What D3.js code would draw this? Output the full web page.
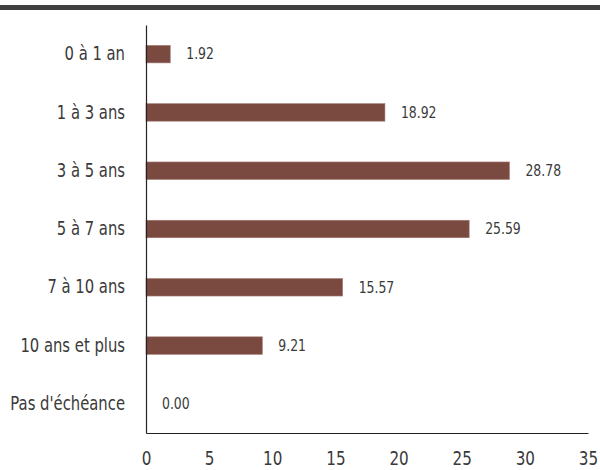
<!doctype html>
<html lang="fr">
<head>
<meta charset="utf-8">
<title>Répartition par échéance</title>
<script src="https://cdn.jsdelivr.net/npm/d3@7"></script>
<style>
  body { margin: 0; background: #fff; }
  text { font-family: "DejaVu Sans", sans-serif; fill: #3a3a3a; }
</style>
</head>
<body>
<script>
// data
var categories = ["0 à 1 an", "1 à 3 ans", "3 à 5 ans", "5 à 7 ans", "7 à 10 ans", "10 ans et plus", "Pas d'échéance"];
var values = [1.92, 18.92, 28.78, 25.59, 15.57, 9.21, 0.00];
var xTicks = [0, 5, 10, 15, 20, 25, 30, 35];

var width = 600, height = 470;
var margin = {top: 25, right: 12, bottom: 37, left: 146};
var narrow = 0.78; // no condensed font installed, squeeze horizontally

var svg = d3.select("body").append("svg")
    .attr("width", width).attr("height", height);

// dark strip at the top
svg.append("rect").attr("x", 0).attr("y", 5).attr("width", width).attr("height", 5)
    .attr("fill", "#404040");

var x = d3.scaleLinear().domain([0, 35]).range([margin.left, width - margin.right]);
var y = d3.scaleBand().domain(categories)
    .range([margin.top, height - margin.bottom])
    .paddingInner(0.7).paddingOuter(0.35);

var rows = categories.map(function(c, i){ return {cat: c, val: values[i]}; });

svg.append("g").selectAll("rect")
    .data(rows)
  .enter().append("rect")
    .attr("x", x(0))
    .attr("y", function(d){ return y(d.cat); })
    .attr("width", function(d){ return x(d.val) - x(0); })
    .attr("height", y.bandwidth())
    .attr("fill", "#7a4a41")
    .attr("stroke", function(d){ return d.val > 0 ? "#a27a72" : "none"; })
    .attr("stroke-width", 0.6);

svg.append("g").selectAll("text")
    .data(rows)
  .enter().append("text")
    .attr("transform", function(d){
        return "translate(" + (x(d.val) + 16) + "," + (y(d.cat) + y.bandwidth() / 2) + ") scale(0.83,1)";
    })
    .attr("dy", "0.35em")
    .style("font-size", "15px")
    .text(function(d){ return d.val.toFixed(2); });

// axes
var yAxis = svg.append("g")
    .attr("transform", "translate(" + margin.left + ",0)")
    .call(d3.axisLeft(y).tickSize(0));
yAxis.select(".domain").attr("stroke", "#222").attr("stroke-width", 1.2);
yAxis.selectAll(".tick text")
    .attr("x", 0)
    .attr("transform", "translate(-21,0) scale(" + narrow + ",1)")
    .style("font-size", "19px");

var xAxis = svg.append("g")
    .attr("transform", "translate(0," + (height - margin.bottom) + ")")
    .call(d3.axisBottom(x).tickValues(xTicks).tickSize(0).tickPadding(19));
xAxis.select(".domain").attr("stroke", "#222").attr("stroke-width", 1.2);
xAxis.selectAll(".tick text")
    .attr("transform", "scale(0.8,1)")
    .style("font-size", "19px");
</script>
</body>
</html>
